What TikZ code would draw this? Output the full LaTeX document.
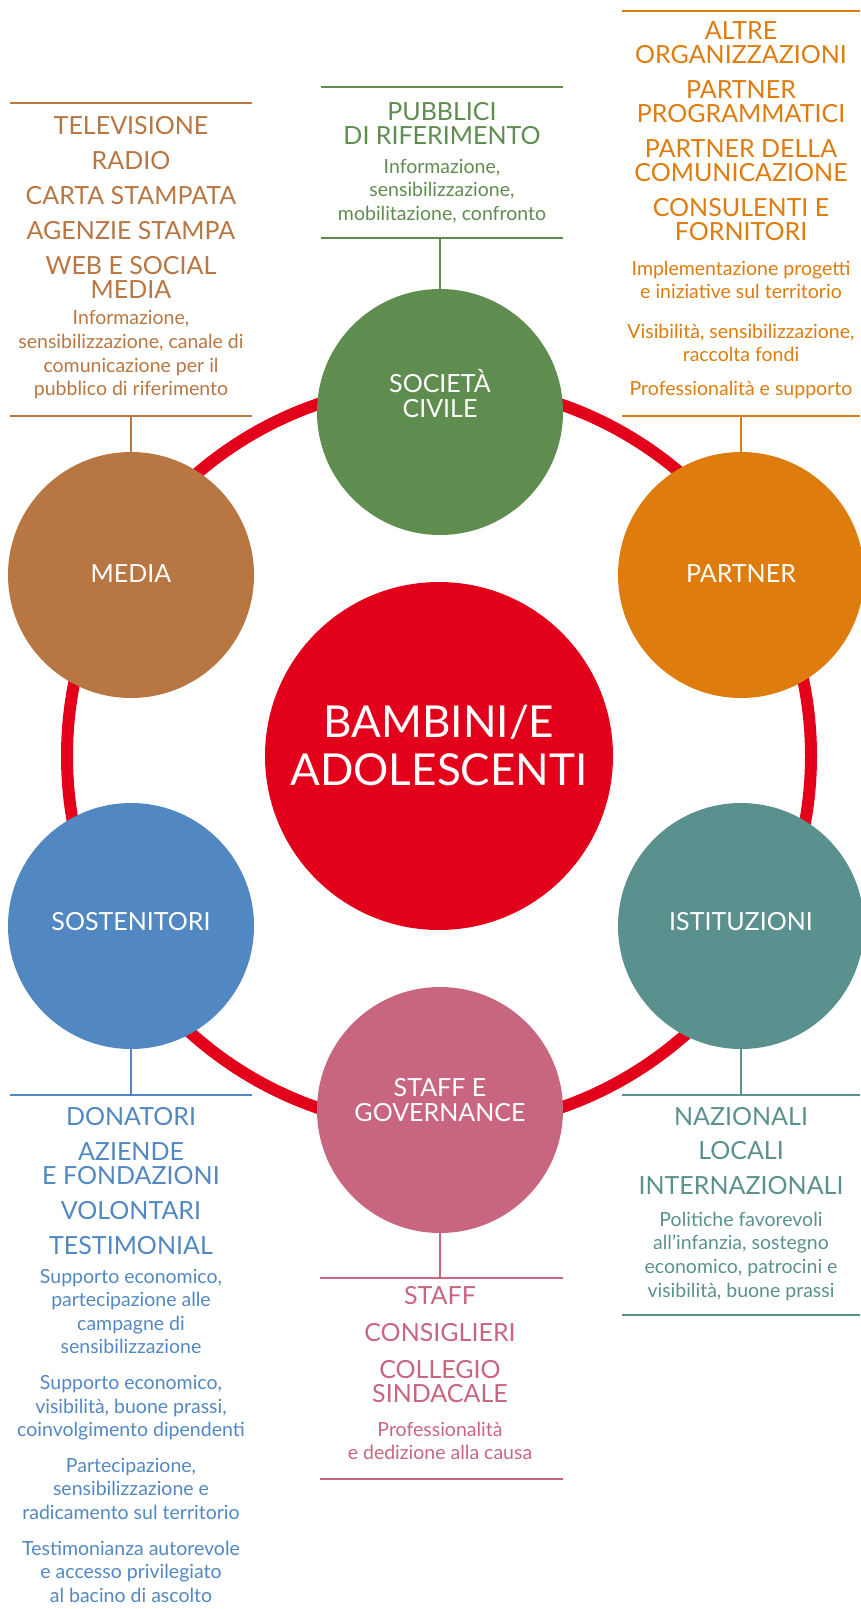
\documentclass[tikz,border=0pt]{standalone}
\usepackage{fontspec}
\setmainfont{Lato}
\usetikzlibrary{positioning}

\definecolor{redbb}{HTML}{E2001A}
\definecolor{media}{HTML}{B87642}
\definecolor{civile}{HTML}{5F8D4F}
\definecolor{partner}{HTML}{DE7C0E}
\definecolor{istit}{HTML}{5A918F}
\definecolor{staff}{HTML}{C8667F}
\definecolor{sosten}{HTML}{5288C2}

\newcommand{\hdfont}{\fontsize{25}{24}\selectfont}
\newcommand{\bdfont}{\fontsize{19.5}{23.6}\selectfont}
\newcommand{\lblfont}{\fontsize{25}{25}\selectfont}
\newcommand{\hubfont}{\fontsize{44}{48}\selectfont}

\tikzset{
  bubble/.style={circle, fill=#1, minimum size=246pt, inner sep=0pt},
  bubtxt/.style={text=white, font=\lblfont, align=center, inner sep=0pt},
  hd/.style={text=#1, font=\hdfont, align=center, inner sep=0pt},
  bd/.style={text=#1, font=\bdfont, align=center, inner sep=0pt},
  rule/.style={draw=#1, line width=1.2pt},
}

\begin{document}
\begin{tikzpicture}[x=1pt,y=-1pt]
    \useasboundingbox (0,0) rectangle (860,1609);

    % ring behind the circles
    \draw[redbb, line width=12pt] (439,756) circle[radius=372];

    \node[bubble=redbb, minimum size=348pt,
      label={[bubtxt, font=\hubfont, yshift=11pt]center:{BAMBINI/E\\ADOLESCENTI}}] (kids) at (439,756) {};
    \node[bubble=civile, label={[bubtxt, yshift=18pt]center:{SOCIETÀ\\CIVILE}}] (civ) at (440,412) {};
    \node[bubble=media, label={[bubtxt, yshift=1pt]center:MEDIA}] (med) at (131,575) {};
    \node[bubble=partner, label={[bubtxt, yshift=1pt]center:PARTNER}] (par) at (741,575) {};
    \node[bubble=sosten, label={[bubtxt, yshift=4pt]center:SOSTENITORI}] (sos) at (131,926) {};
    \node[bubble=istit, label={[bubtxt, yshift=4pt]center:ISTITUZIONI}] (ist) at (741,926) {};
    \node[bubble=staff, label={[bubtxt, yshift=10pt]center:{STAFF E\\GOVERNANCE}}] (stf) at (440,1110) {};

    % rules
    \foreach \c/\xa/\xb/\y in {media/10/252/103, media/10/252/416, civile/321/563/87, civile/321/563/238,
        partner/622/860/11, partner/622/860/416, sosten/10/252/1095, staff/320/563/1278,
        staff/320/563/1479, istit/622/860/1095, istit/622/860/1315}{
        \draw[rule=\c] (\xa,\y) -- (\xb,\y);
    }

    \coordinate (medT) at (131,103);
    \coordinate (medB) at (131,416);
    \coordinate (civT) at (442,87);
    \coordinate (civB) at (440,238);
    \coordinate (parT) at (741,11);
    \coordinate (parB) at (741,416);
    \coordinate (sosT) at (131,1095);
    \coordinate (stfT) at (440,1278);
    \coordinate (istT) at (741,1095);

    \foreach \c/\k/\l in {media/medB/med, civile/civB/civ, partner/parB/par,
        sosten/sosT/sos, staff/stfT/stf, istit/istT/ist}{\draw[rule=\c] (\k) -- (\l);}

    % media
    \node[hd=media, below=13pt of medT] (medHd) {TELEVISIONE\\[11pt]RADIO\\[11pt]CARTA STAMPATA\\[11pt]AGENZIE STAMPA\\[11pt]WEB E SOCIAL\\MEDIA};
    \node[bd=media, below=12pt of medHd] (medBd) {Informazione,\\sensibilizzazione, canale di\\comunicazione per il\\pubblico di riferimento};

    % societa civile
    \node[hd=civile, below=15pt of civT] (civHd) {PUBBLICI\\DI RIFERIMENTO};
    \node[bd=civile, below=14pt of civHd] (civBd) {Informazione,\\sensibilizzazione,\\mobilitazione, confronto};

    % partner
    \node[hd=partner, below=10pt of parT] (parHd) {ALTRE\\ORGANIZZAZIONI\\[11pt]PARTNER\\PROGRAMMATICI\\[11pt]PARTNER DELLA\\COMUNICAZIONE\\[11pt]CONSULENTI E\\FORNITORI};
    \node[bd=partner, below=20pt of parHd] (parBd) {Implementazione progetti\\e iniziative sul territorio\\[16pt]Visibilità, sensibilizzazione,\\raccolta fondi\\[10pt]Professionalità e supporto};

    % sostenitori
    \node[hd=sosten, below=12pt of sosT] (sosHd) {DONATORI\\[11pt]AZIENDE\\E FONDAZIONI\\[11pt]VOLONTARI\\[11pt]TESTIMONIAL};
    \node[bd=sosten, below=14pt of sosHd] (sosBd) {Supporto economico,\\partecipazione alle\\campagne di\\sensibilizzazione\\[12pt]Supporto economico,\\visibilità, buone prassi,\\coinvolgimento dipendenti\\[12pt]Partecipazione,\\sensibilizzazione e\\radicamento sul territorio\\[12pt]Testimonianza autorevole\\e accesso privilegiato\\al bacino di ascolto};

    % staff
    \node[hd=staff, below=8pt of stfT] (stfHd) {STAFF\\[13pt]CONSIGLIERI\\[13pt]COLLEGIO\\SINDACALE};
    \node[bd=staff, below=19pt of stfHd] (stfBd) {Professionalità\\e dedizione alla causa};

    % istituzioni
    \node[hd=istit, below=12pt of istT] (istHd) {NAZIONALI\\[10pt]LOCALI\\[11pt]INTERNAZIONALI};
    \node[bd=istit, below=17pt of istHd] (istBd) {Politiche favorevoli\\all'infanzia, sostegno\\economico, patrocini e\\visibilità, buone prassi};
\end{tikzpicture}
\end{document}
